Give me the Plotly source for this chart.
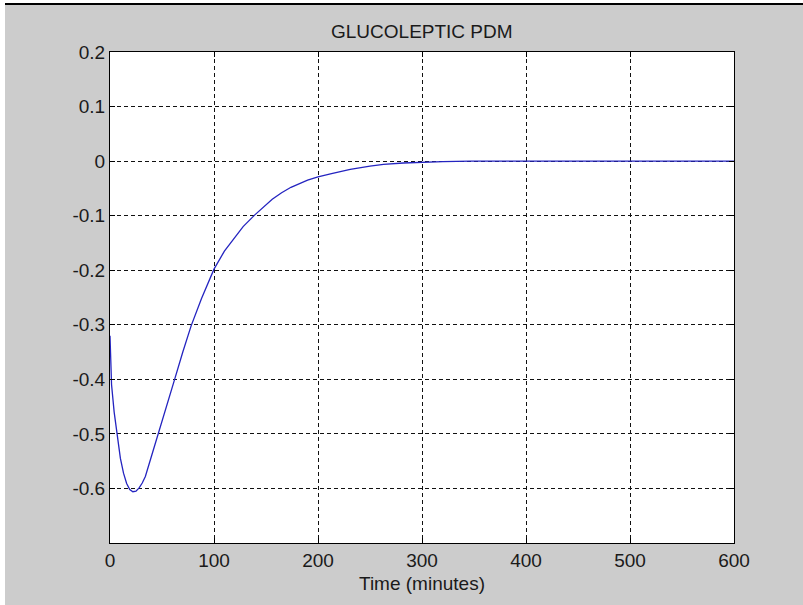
import plotly.graph_objects as go

# Data (time in minutes, PDM value)
time_min = [0, 0.5, 1.5, 4, 6.5, 10, 13, 16, 19, 22, 25, 28, 31, 34, 40, 47, 55, 62,
            70, 78, 88, 100, 110, 120, 128, 139, 150, 156, 165, 174, 190, 200, 213,
            231, 250, 263, 282, 300, 320, 347, 400, 450, 500, 550, 600]
pdm_value = [-0.32, -0.37, -0.41, -0.46, -0.50, -0.545, -0.572, -0.591, -0.602, -0.606,
             -0.605, -0.599, -0.590, -0.578, -0.54, -0.497, -0.448, -0.401,
             -0.350, -0.302, -0.252, -0.198, -0.165, -0.139, -0.120, -0.099, -0.080,
             -0.070, -0.058, -0.048, -0.035, -0.029, -0.023,
             -0.015, -0.009, -0.006, -0.0035, -0.002, -0.001, 0, 0, 0, 0, 0, 0]

x_ticks = [0, 100, 200, 300, 400, 500, 600]
x_tick_labels = ["0", "100", "200", "300", "400", "500", "600"]
y_ticks = [0.2, 0.1, 0, -0.1, -0.2, -0.3, -0.4, -0.5, -0.6]
y_tick_labels = ["0.2", "0.1", "0", "-0.1", "-0.2", "-0.3", "-0.4", "-0.5", "-0.6"]

title_text = "GLUCOLEPTIC PDM"
x_label = "Time (minutes)"

W, H = 803, 605
L, R, T, B = 110, 69, 52, 62
pw, ph = W - L - R, H - T - B

def px_x(p):
    return (p - L) / pw

def px_y(p):
    return (H - B - p) / ph

FONT = "Liberation Sans, Arial, sans-serif"
fs = 19
TXT = "#1a1a1a"

fig = go.Figure()
fig.add_trace(go.Scatter(x=time_min, y=pdm_value, mode="lines",
                         line=dict(color="#2424c0", width=1.3),
                         hoverinfo="skip", showlegend=False))

axis_common = dict(
    showline=True, linecolor="black", linewidth=1, mirror="ticks",
    ticks="inside", ticklen=5, tickcolor="black",
    showgrid=True, gridcolor="#111111", gridwidth=1, griddash="4px,3px",
    zeroline=False,
    tickfont=dict(family=FONT, size=fs, color=TXT),
)

fig.update_xaxes(range=[0, 600], tickvals=x_ticks, ticktext=x_tick_labels, **axis_common)
fig.update_yaxes(range=[-0.7, 0.2], tickvals=y_ticks, ticktext=y_tick_labels, **axis_common)

fig.update_layout(
    width=W, height=H,
    margin=dict(l=L, r=R, t=T, b=B, pad=0),
    paper_bgcolor="#cccccc",
    plot_bgcolor="white",
    showlegend=False,
    shapes=[
        dict(type="rect", xref="paper", yref="paper", x0=px_x(-5), x1=px_x(5),
             y0=px_y(H + 5), y1=px_y(-5), fillcolor="white", line=dict(width=0), layer="below"),
        dict(type="rect", xref="paper", yref="paper", x0=px_x(5), x1=px_x(W + 5),
             y0=px_y(3), y1=px_y(-5), fillcolor="white", line=dict(width=0), layer="below"),
        dict(type="rect", xref="paper", yref="paper", x0=px_x(5), x1=px_x(W + 5),
             y0=px_y(5), y1=px_y(3), fillcolor="black", line=dict(width=0), layer="below"),
    ],
    annotations=[
        dict(text=title_text, xref="paper", yref="paper", x=0.5, y=px_y(31),
             xanchor="center", yanchor="middle", showarrow=False,
             font=dict(family=FONT, size=fs, color=TXT)),
        dict(text=x_label, xref="paper", yref="paper", x=0.5, y=px_y(584),
             xanchor="center", yanchor="middle", showarrow=False,
             font=dict(family=FONT, size=fs, color=TXT)),
    ],
)

fig.write_html("out.html")
